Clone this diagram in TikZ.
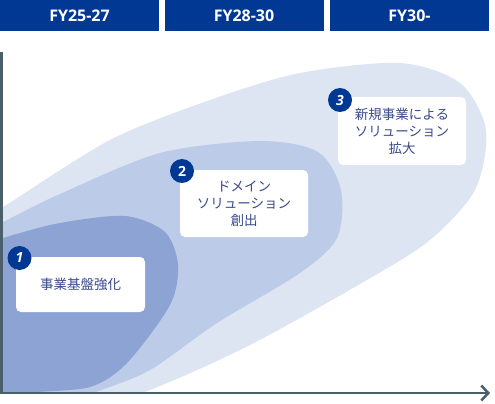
\documentclass[tikz,border=0pt]{standalone}
\usepackage{fontspec}
\setmainfont{Open Sans}
\newfontfamily\jpfont{Noto Sans CJK JP}
\usepackage{xcolor}
\usetikzlibrary{arrows.meta,positioning}
\definecolor{navy}{HTML}{003893}
\definecolor{txtblue}{HTML}{3A4A8C}
\definecolor{axisgray}{HTML}{4B5F6A}
\definecolor{zoneout}{HTML}{DDE5F3}
\definecolor{zonemid}{HTML}{BCCBE8}
\definecolor{zonein}{HTML}{8CA3D3}

\begin{document}
\begin{tikzpicture}[
    x=1pt, y=-1pt,
    period/.style={fill=navy, text=white, minimum width=159pt, minimum height=31pt, inner sep=0pt, font=\fontsize{16}{18}\selectfont\bfseries},
    stage/.style={fill=white, rounded corners=5pt, inner sep=0pt, align=center, text=txtblue, font=\jpfont\fontsize{13.5}{17}\selectfont},
    badge/.style={circle, fill=navy, text=white, minimum size=24pt, inner sep=0pt, font=\fontsize{14}{14}\selectfont\bfseries},
    axis/.style={draw=axisgray, line width=2.5pt}
]
\useasboundingbox (0,0) rectangle (495,404);

\node[period] (fy1) at (79.5,15.5) {FY25-27};
\node[period] (fy2) at (244,15.5) {FY28-30};
\node[period] (fy3) at (409.5,15.5) {FY30-};

\begin{scope}
\clip (0,40) rectangle (495,393);
\fill[zoneout] plot[smooth cycle] coordinates {(-40,232) (3,207) (110,140) (210,100) (300,73) (400,63) (460,83) (486,130) (475,190) (430,240) (367,280) (250,345) (150,390) (80,410) (-40,410)};
\fill[zonemid] plot[smooth cycle] coordinates {(-40,243) (3,222) (60,194) (160,153) (260,141) (318,152) (341,190) (337,238) (300,273) (217,323) (150,370) (93,393) (30,415) (-40,420)};
\fill[zonein] plot[smooth cycle] coordinates {(-30,250) (3,238) (60,223) (125,216) (165,232) (178,265) (170,305) (127,363) (90,387) (28,393) (-30,405)};
\end{scope}

\coordinate (ytop) at (1.5,52);
\coordinate (xend) at (490,393);
\draw[axis, -{Straight Barb[length=7pt, width=15pt]}] (ytop) |- (xend);

\node[stage, minimum width=129pt, minimum height=55pt] (base) at (80.5,284.5) {事業基盤強化};
\node[stage, minimum width=128pt, minimum height=67pt] (domain) at (244,203.5) {ドメイン\\ソリューション\\創出};
\node[stage, minimum width=128pt, minimum height=68pt] (newbiz) at (402,131) {新規事業による\\ソリューション\\拡大};

\node[badge, font=\fontsize{14}{14}\selectfont\bfseries\itshape] (n1) at (19.5,258) {1};
\node[badge] (n2) at (182,171) {2};
\node[badge, font=\fontsize{14}{14}\selectfont\bfseries\itshape] (n3) at (340,100) {3};
\end{tikzpicture}
\end{document}
